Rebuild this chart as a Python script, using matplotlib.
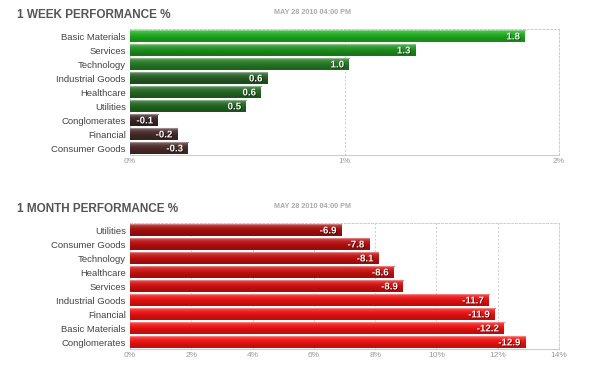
import numpy as np
import matplotlib
matplotlib.use("Agg")
import matplotlib.pyplot as plt
import matplotlib.patheffects as pe
from matplotlib.colors import to_rgb

# data
week_sectors = ["Basic Materials", "Services", "Technology", "Industrial Goods",
                "Healthcare", "Utilities", "Conglomerates", "Financial", "Consumer Goods"]
week_values = [1.84, 1.33, 1.02, 0.64, 0.61, 0.54, -0.13, -0.22, -0.27]
week_colors = ["#1fae1f", "#1e931e", "#277c27", "#245f24", "#246a24", "#216a21",
               "#3b2626", "#472a2a", "#4d2b2b"]

month_sectors = ["Utilities", "Consumer Goods", "Technology", "Healthcare", "Services",
                 "Industrial Goods", "Financial", "Basic Materials", "Conglomerates"]
month_values = [-6.9, -7.8, -8.1, -8.6, -8.9, -11.7, -11.9, -12.2, -12.9]
month_colors = ["#a80e0e", "#bb0f0f", "#c41010", "#cf1010", "#d51010",
                "#ec1010", "#ef1010", "#f11010", "#f41212"]

plt.rcParams["font.family"] = ["Liberation Sans", "DejaVu Sans"]

fig = plt.figure(figsize=(6, 3.71), dpi=100)


def shade(c, f):
    r = np.array(to_rgb(c))
    if f > 0:
        return r + (1 - r) * f
    return r * (1 + f)


def panel(rect, sectors, values, colors, xmax, step, title, title_y):
    ax = fig.add_axes(rect)
    y = np.arange(len(sectors))
    lengths = np.abs(values)
    bars = ax.barh(y, lengths, height=0.88, color=colors, zorder=2)
    # vertical gradient on every bar, lighter at the top
    for b, c in zip(bars, colors):
        x0, y0 = b.get_x(), b.get_y()
        w, h = b.get_width(), b.get_height()
        grad = np.array([shade(c, 0.25), shade(c, 0.05), shade(c, -0.1), shade(c, -0.2)])
        img = ax.imshow(grad.reshape(4, 1, 3), extent=[x0, x0 + w, y0 + h, y0],
                        aspect="auto", interpolation="bilinear", zorder=3)
        img.set_clip_path(b)
        ax.plot([x0, x0 + w], [y0 + 0.03, y0 + 0.03], color=shade(c, 0.45), lw=0.8, zorder=4)
    for yi, (v, l) in enumerate(zip(values, lengths)):
        ax.text(l - xmax * 0.011, yi + 0.03, "%.1f" % v, ha="right", va="center",
                color="white", fontsize=7, fontweight="bold", zorder=5,
                path_effects=[pe.withSimplePatchShadow(offset=(0.6, -0.6),
                                                       shadow_rgbFace="black", alpha=0.5)])
    ax.set_ylim(len(sectors) - 0.5, -0.5)
    ax.set_xlim(0, xmax)
    ax.set_yticks(y)
    ax.set_yticklabels(sectors, fontsize=6.8, color="#444444")
    ticks = np.arange(0, xmax + step / 2, step)
    ax.set_xticks(ticks)
    ax.set_xticklabels(["%d%%" % t for t in ticks], fontsize=6, color="#999999")
    ax.tick_params(length=0, pad=2.5)
    ax.tick_params(axis="y", pad=3)
    ax.grid(axis="x", color="#cccccc", linestyle=(0, (2, 2)), lw=0.7, zorder=0)
    ax.set_axisbelow(True)
    ax.spines["left"].set_visible(False)
    ax.spines["bottom"].set_color("#cccccc")
    for s in ("top", "right"):
        ax.spines[s].set_color("#cccccc")
        ax.spines[s].set_linestyle((0, (2, 2)))
        ax.spines[s].set_linewidth(0.7)
    fig.text(17 / 600, title_y, title, fontsize=8.5, fontweight="bold", color="#555555",
             va="center")
    fig.text(274 / 600, title_y + 0.006, "MAY 28 2010 04:00 PM", fontsize=5.2,
             fontweight="bold", color="#aaaaaa", va="center")
    return ax


panel([130 / 600, 1 - 155 / 371, 429 / 600, 126 / 371], week_sectors, week_values,
      week_colors, 2, 1, "1 WEEK PERFORMANCE %", 1 - 15 / 371)
panel([130 / 600, 1 - 349 / 371, 429 / 600, 126 / 371], month_sectors, month_values,
      month_colors, 14, 2, "1 MONTH PERFORMANCE %", 1 - 209 / 371)

plt.savefig("out.png", dpi=100)
